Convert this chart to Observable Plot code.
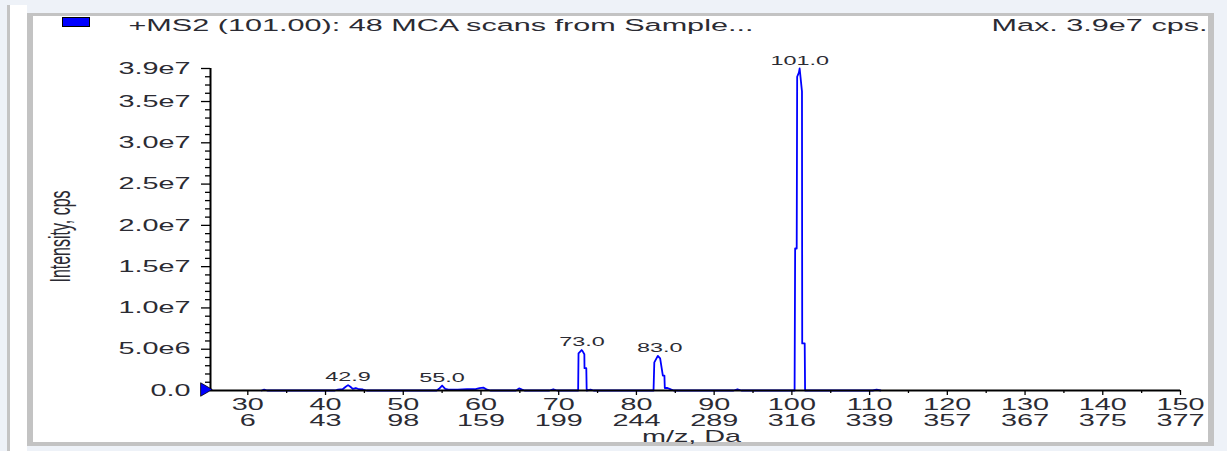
<!DOCTYPE html>
<html><head><meta charset="utf-8">
<script src="https://cdn.jsdelivr.net/npm/d3@7"></script>
<script src="https://cdn.jsdelivr.net/npm/@observablehq/plot@0.6"></script>
<style>
html,body{margin:0;padding:0;}
body{width:1227px;height:451px;background:#eef2f8;position:relative;overflow:hidden;font-family:"Liberation Sans",Arial,sans-serif;}
#white{position:absolute;left:10px;top:5px;width:17px;height:446px;background:#fff;}
#strip{position:absolute;left:7px;top:5px;width:3px;height:446px;background:#c4c4c4;}
#panel{position:absolute;left:27px;top:13px;width:1187px;height:433px;box-sizing:border-box;background:#fff;border-top:3px solid #c3c3c3;border-left:6px solid #c3c3c3;border-right:6px solid #c3c3c3;border-bottom:4px solid #c3c3c3;}
#legend{position:absolute;left:62px;top:17px;width:26px;height:8px;background:#0000ff;border:1px solid #000;}
#chart{position:absolute;left:0;top:0;}
</style>
</head><body>
<div id="strip"></div><div id="white"></div><div id="panel"></div><div id="legend"></div>
<div id="chart"></div>
<script>
// ---- data ----
const titleText = "+MS2 (101.00): 48 MCA scans from Sample...";
const maxText = "Max. 3.9e7 cps.";
const xLabel = "m/z, Da";
const yLabel = "Intensity, cps";

const xTickValues = [30, 40, 50, 60, 70, 80, 90, 100, 110, 120, 130, 140, 150];
const xTickSecondRow = ["6", "43", "98", "159", "199", "244", "289", "316", "339", "357", "367", "375", "377"];
const xMinorTicks = [35, 45, 55, 65, 75, 85, 95, 105, 115, 125, 135, 145];

const yTickValues = [0, 5e6, 1e7, 1.5e7, 2e7, 2.5e7, 3e7, 3.5e7, 3.9e7];
const yTickLabels = ["0.0", "5.0e6", "1.0e7", "1.5e7", "2.0e7", "2.5e7", "3.0e7", "3.5e7", "3.9e7"];
const yMinorTicks = [1e6,2e6,3e6,4e6,6e6,7e6,8e6,9e6,11e6,12e6,13e6,14e6,16e6,17e6,18e6,19e6,21e6,22e6,23e6,24e6,26e6,27e6,28e6,29e6,31e6,32e6,33e6,34e6,36e6,37e6,38e6];

const profileMz = [
  31.8, 32.1, 32.5,
  41.2, 41.6, 42.2, 42.6, 42.9, 43.2, 43.5, 43.9, 44.3, 44.8, 45.3,
  54.3, 54.6, 55.0, 55.4, 55.8, 57.0, 58.2, 59.2, 59.8, 60.3, 60.8, 61.2,
  64.5, 64.9, 65.3, 65.6,
  68.8, 69.3, 69.8,
  72.5, 72.55, 72.95, 73.05, 73.3, 73.32, 73.55, 73.6, 74.1, 74.5,
  82.2, 82.3, 82.75, 83.05, 83.4, 83.6, 83.65, 84.0, 84.5, 84.8,
  92.5, 93.0, 93.5,
  100.35, 100.42, 100.62, 100.68, 100.9, 101.0, 101.3, 101.33, 101.65, 101.7,
  110.4, 110.9, 111.4
];
const profileIntensity = [
  0, 1e5, 0,
  0, 1e5, 1.5e5, 4.5e5, 6.5e5, 4.5e5, 2e5, 3e5, 1.5e5, 1.2e5, 0,
  0, 2e5, 6e5, 2e5, 1e5, 1e5, 1.5e5, 1.5e5, 3e5, 3.5e5, 1e5, 0,
  0, 2.5e5, 1e5, 0,
  0, 1.5e5, 0,
  0, 4.5e6, 4.9e6, 4.8e6, 4.4e6, 2.7e6, 2.7e6, 0, 1e5, 0,
  0, 3.4e6, 4.2e6, 3.9e6, 1.8e6, 1.8e6, 3e5, 3e5, 1e5, 0,
  0, 1.5e5, 0,
  0, 1.72e7, 1.72e7, 3.8e7, 3.85e7, 3.9e7, 3.62e7, 5.7e6, 5.7e6, 0,
  0, 1e5, 0
];

const peakLabelMz = [42.9, 55.0, 73.0, 83.0, 101.0];
const peakLabelIntensity = [6.5e5, 6e5, 4.9e6, 4.2e6, 3.9e7];
const peakLabelText = ["42.9", "55.0", "73.0", "83.0", "101.0"];

// ---- build tables ----
const profile = profileMz.map((mz, i) => ({mz, intensity: profileIntensity[i]}));
const peakLabels = peakLabelMz.map((mz, i) => ({mz, intensity: peakLabelIntensity[i], text: peakLabelText[i]}));
const xSecond = new Map(xTickValues.map((v, i) => [v, xTickSecondRow[i]]));
const yLab = new Map(yTickValues.map((v, i) => [v, yTickLabels[i]]));

const XMIN = 25.2, XMAX = 150;
const ink = "#2b2b33";

const plot = Plot.plot({
  width: 1227,
  height: 451,
  marginLeft: 210,
  marginRight: 47,
  marginTop: 68,
  marginBottom: 61,
  style: {background: "transparent", fontFamily: "'Liberation Sans', Arial, sans-serif", overflow: "visible"},
  x: {domain: [XMIN, XMAX], axis: null, label: null},
  y: {domain: [0, 3.9e7], axis: null, label: null},
  marks: [
    Plot.line(profile, {x: "mz", y: "intensity", stroke: "#0000ff", strokeWidth: 1.8}),
    Plot.ruleY([0], {stroke: "#000", strokeWidth: 2}),
    Plot.ruleX([XMIN], {y1: 0, y2: 3.9e7, stroke: "#000", strokeWidth: 2}),
    // y axis
    Plot.axisY(yMinorTicks, {tickSize: 5, tickFormat: () => "", label: null, stroke: "#000", strokeWidth: 1.3}),
    Plot.axisY(yTickValues, {tickSize: 9, tickPadding: 11, tickFormat: (d) => yLab.get(d), label: null, fontSize: 16, fill: ink, stroke: "#000", strokeWidth: 1.3}),
    // x axis
    Plot.axisX(xMinorTicks, {tickSize: 3, tickFormat: () => "", label: null, stroke: "#000", strokeWidth: 1.3}),
    Plot.axisX(xTickValues, {tickSize: 5, tickPadding: 3, tickFormat: (d) => d + "\n" + xSecond.get(d), label: null, fontSize: 16, lineHeight: 1.0, fill: ink, stroke: "#000", strokeWidth: 1.3}),
    // peak annotations
    Plot.text(peakLabels, {x: "mz", y: "intensity", text: "text", fontSize: 13, fill: ink, dy: -8}),
    // baseline marker
    Plot.dot([0], {frameAnchor: "bottom-left", symbol: "triangle", rotate: 90, r: 5, fill: "#0000ff", stroke: "#000", strokeWidth: 0.8, dx: -6, dy: -1}),
    // axis titles
    Plot.text([xLabel], {frameAnchor: "bottom", text: (d) => d, fontSize: 16, fill: ink, textAnchor: "middle", lineAnchor: "middle", dx: -4, dy: 46}),
    Plot.text([yLabel], {frameAnchor: "left", text: (d) => d, fontSize: 16, fill: ink, textAnchor: "middle", lineAnchor: "middle", rotate: -90, dx: -150, dy: 7}),
    // header texts
    Plot.text([titleText], {frameAnchor: "top-left", text: (d) => d, fontSize: 17, fill: ink, textAnchor: "start", lineAnchor: "top", dx: -82, dy: -50}),
    Plot.text([maxText], {frameAnchor: "top-right", text: (d) => d, fontSize: 17, fill: ink, textAnchor: "end", lineAnchor: "top", dx: 27, dy: -50})
  ]
});

// The reference rendering is horizontally stretched; stretch glyphs around their anchors.
const S = 1.8;
const isNum = (v) => v != null && /^-?[\d.]+$/.test(v.trim());
plot.querySelectorAll("text").forEach((t) => {
  let tr = t.getAttribute("transform") || "";
  let px = 0, py = 0;
  const xa = t.getAttribute("x"), ya = t.getAttribute("y");
  if (isNum(xa)) { px = +xa; t.removeAttribute("x"); }
  if (isNum(ya)) { py = +ya; t.removeAttribute("y"); }
  const m = tr.match(/^\s*translate\(([^)]*)\)(.*)$/);
  const pre = (px || py) ? ` translate(${px},${py})` : "";
  if (m) tr = `translate(${m[1]})${pre} scale(${S},1)${m[2]}`;
  else tr = `${pre} scale(${S},1) ${tr}`.trim();
  t.setAttribute("transform", tr);
});
document.getElementById("chart").appendChild(plot);
</script>
</body></html>
